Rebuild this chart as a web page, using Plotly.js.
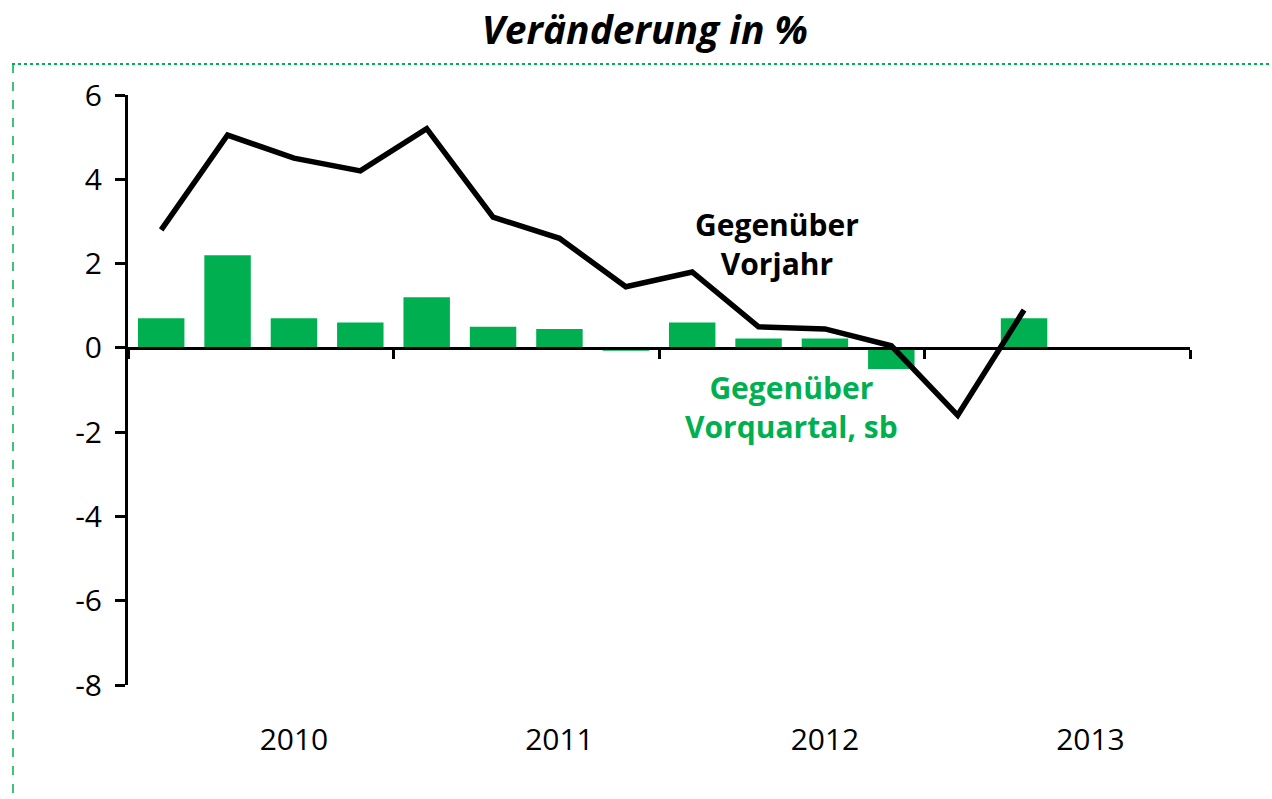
<!DOCTYPE html>
<html>
<head>
<meta charset="utf-8">
<script src="https://cdn.plot.ly/plotly-3.0.1.min.js"></script>
<style>html,body{margin:0;padding:0;background:#fff;}#chart{width:1272px;height:799px;}</style>
</head>
<body>
<div id="chart"></div>
<script>
// Quarter slots on the category axis (16 slots, data fills the first 14)
const slots = ['2009 Q3','2009 Q4','2010 Q1','2010 Q2','2010 Q3','2010 Q4','2011 Q1','2011 Q2',
               '2011 Q3','2011 Q4','2012 Q1','2012 Q2','2012 Q3','2012 Q4','2013 Q1','2013 Q2'];
const quarters = slots.slice(0, 14);
// Change vs. previous year (line)
const yoy = [2.8, 5.05, 4.5, 4.2, 5.2, 3.1, 2.6, 1.45, 1.8, 0.5, 0.45, 0.05, -1.6, 0.9];
// Change vs. previous quarter, seasonally adjusted (bars)
const qoq = [0.7, 2.2, 0.7, 0.6, 1.2, 0.5, 0.45, -0.07, 0.6, 0.22, 0.22, -0.5, 0, 0.7];
const yearTickVals = ['2010 Q1','2011 Q1','2012 Q1','2013 Q1'];
const yearTickText = ['2010','2011','2012','2013'];
const yTicks = [-8, -6, -4, -2, 0, 2, 4, 6];

const green = '#00B050';
const font = 'Open Sans, Lato, sans-serif';

const traces = [
  {type:'bar', x: quarters, y: qoq, marker:{color: green}, hoverinfo:'skip'},
  {type:'scatter', mode:'lines', x: quarters, y: yoy, line:{color:'#000', width:5.5}, hoverinfo:'skip'}
];

const yRange = [-8, 6];
const zeroPos = (0 - yRange[0]) / (yRange[1] - yRange[0]);

const layout = {
  width: 1272, height: 799,
  margin: {l:128, r:82, t:95, b:114},
  paper_bgcolor:'#fff', plot_bgcolor:'#fff',
  showlegend:false,
  bargap: 0.3,
  font: {family: font, color:'#000'},
  title: {text:'<b><i>Veränderung in %</i></b>', x:0.507, xref:'container', xanchor:'center',
          y: 1 - 30/799, yref:'container', yanchor:'middle',
          font:{family: font, size:39, color:'#000'}},
  xaxis: {type:'category', categoryorder:'array', categoryarray: slots, range:[-0.5, 15.5],
          showline:false, showgrid:false, zeroline:false, ticks:'',
          tickmode:'array', tickvals: yearTickVals, ticktext: yearTickText,
          ticklabelstandoff: 34, tickfont:{size:30, family: font, color:'#000'}},
  xaxis2: {overlaying:'x', anchor:'free', position: zeroPos, side:'bottom', range:[-0.5, 15.5],
           showline:true, linecolor:'#000', linewidth:3, showgrid:false, zeroline:false,
           ticks:'outside', ticklen:9, tickwidth:3, tickcolor:'#000',
           tickmode:'array', tickvals:[-0.5, 3.5, 7.5, 11.5, 15.5], showticklabels:false},
  yaxis: {range: yRange, tickmode:'array', tickvals: yTicks, ticktext: yTicks.map(String),
          showline:true, linecolor:'#000', linewidth:3, showgrid:false, zeroline:false,
          ticks:'outside', ticklen:10, tickwidth:3, tickcolor:'#000',
          ticklabelstandoff: 7, tickfont:{size:30, family: font, color:'#000'}},
  shapes: [
    {type:'line', xref:'paper', yref:'paper', x0:(12-128)/1062, x1:(1272-128)/1062,
     y0:(685-64)/590, y1:(685-64)/590, line:{color:green, width:2, dash:'dot'}},
    {type:'line', xref:'paper', yref:'paper', x0:(13-128)/1062, x1:(13-128)/1062,
     y0:(685-64)/590, y1:(685-805)/590, line:{color:green, width:1.5, dash:'dash'}}
  ],
  annotations: [
    {text:'<b>Gegenüber<br>Vorjahr</b>', x:'2011 Q4', xshift:18, y:2.47, xref:'x', yref:'y',
     showarrow:false, font:{size:30, family:font, color:'#000'}, align:'center'},
    {text:'<b>Gegenüber<br>Vorquartal, sb</b>', x:'2011 Q4', xshift:33, y:-1.41, xref:'x', yref:'y',
     showarrow:false, font:{size:30, family:font, color:green}, align:'center'}
  ]
};

// Invisible helper trace so the overlaying zero axis renders
traces.push({type:'scatter', x:[-0.5], y:[0], xaxis:'x2', mode:'markers', marker:{opacity:0}, hoverinfo:'skip'});

Plotly.newPlot('chart', traces, layout, {staticPlot:true});
</script>
</body>
</html>
